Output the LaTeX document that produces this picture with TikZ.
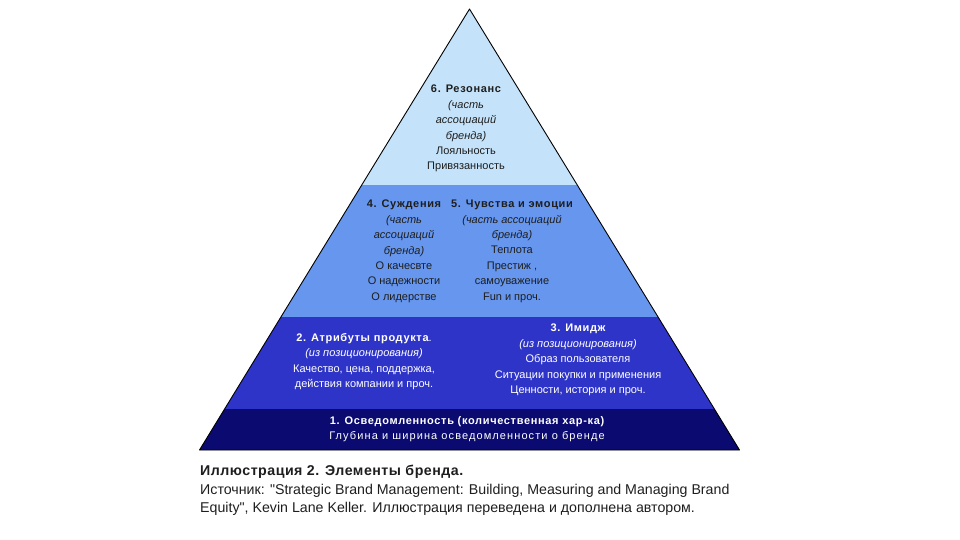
\documentclass[tikz,border=0pt]{standalone}
\usepackage{fontspec}
\setmainfont{Liberation Sans}
\usetikzlibrary{positioning}
\definecolor{lvlsix}{RGB}{196,226,249}
\definecolor{lvlfour}{RGB}{102,150,238}
\definecolor{lvltwo}{RGB}{46,52,200}
\definecolor{lvlone}{RGB}{10,10,112}
\definecolor{inkdark}{RGB}{30,30,30}
\newcommand{\hd}[1]{{\bfseries\addfontfeature{LetterSpace=6}#1}}
\newcommand{\wide}[1]{{\addfontfeature{LetterSpace=10}#1}}
\begin{document}
\begin{tikzpicture}[x=1pt,y=-1pt,
    txt/.style={align=center,inner sep=0pt,anchor=north,font=\fontsize{11}{15.4}\selectfont},
    dark/.style={txt,text=inkdark},
    light/.style={txt,text=white},
    captext/.style={align=left,inner sep=0pt,anchor=north west,text=inkdark,font=\fontsize{14.2}{18.6}\selectfont}]
    \useasboundingbox (0,0) rectangle (960,540);
    % pyramid layers
    \fill[lvlsix] (469.5,9) -- (577.3,185) -- (361.7,185) -- cycle;
    \fill[lvlfour] (361.7,185) -- (577.3,185) -- (658.1,317) -- (280.9,317) -- cycle;
    \fill[lvltwo] (280.9,317) -- (658.1,317) -- (714.4,409) -- (224.6,409) -- cycle;
    \fill[lvlone] (224.6,409) -- (714.4,409) -- (739.5,450) -- (199.5,450) -- cycle;
    \draw[black,line width=0.9pt,line join=round] (469.5,9) -- (739.5,450) -- (199.5,450) -- cycle;
    % texts
    \node[dark] (resonance) at (466,85) {\hd{6. Резонанс}\\\textit{(часть}\\\textit{ассоциаций}\\\textit{бренда)}\\Лояльность\\Привязанность};
    \node[dark] (judgement) at (404,200) {\hd{4. Суждения}\\\textit{(часть}\\\textit{ассоциаций}\\\textit{бренда)}\\О качесвте\\О надежности\\О лидерстве};
    \node[dark] (feelings) at (512,200) {\hd{5. Чувства и эмоции}\\\textit{(часть ассоциаций}\\\textit{бренда)}\\Теплота\\Престиж ,\\самоуважение\\Fun и проч.};
    \node[light] (attributes) at (364,333) {\hd{2. Атрибуты продукта}.\\\textit{(из позиционирования)}\\Качество, цена, поддержка,\\действия компании и проч.};
    \node[light] (image) at (578,324) {\hd{3. Имидж}\\\textit{(из позиционирования)}\\Образ пользователя\\Ситуации покупки и применения\\Ценности, история и проч.};
    \node[light] (awareness) at (467,416) {\hd{1. Осведомленность (количественная хар-ка)}\\\wide{Глубина и ширина осведомленности о бренде}};
    \node[captext] (caption) at (200,465) {{\bfseries\addfontfeature{LetterSpace=3.5}Иллюстрация 2. Элементы бренда.}\\Источник: \textquotedbl Strategic Brand Management: Building, Measuring and Managing Brand\\Equity\textquotedbl, Kevin Lane Keller. Иллюстрация переведена и дополнена автором.};
  \end{tikzpicture}
\end{document}
